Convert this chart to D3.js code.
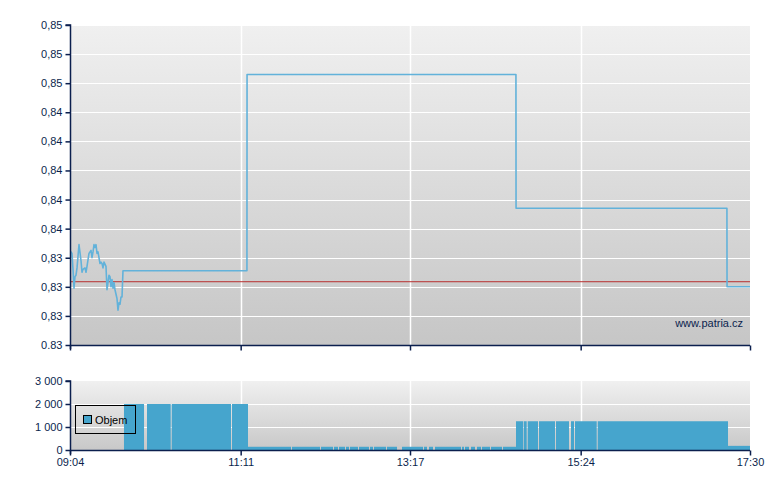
<!DOCTYPE html>
<html>
<head>
<meta charset="utf-8">
<script src="https://cdn.jsdelivr.net/npm/d3@7/dist/d3.min.js"></script>
<style>
  html, body { margin: 0; padding: 0; background: #ffffff; }
  svg { display: block; font-family: "Liberation Sans", Arial, sans-serif; }
</style>
</head>
<body>
<svg id="chart" width="780" height="490"></svg>
<script>
// ---------- DATA ----------
const priceTimes = [
  "09:04:00","09:04:45","09:05:29","09:06:14","09:06:59","09:07:43","09:08:28","09:09:13",
  "09:10:42","09:12:11","09:12:56","09:13:40","09:15:10","09:15:54","09:16:39","09:18:08",
  "09:19:38","09:20:22","09:21:07","09:21:52","09:22:36","09:23:21","09:24:05","09:24:50",
  "09:26:19","09:27:04","09:27:49","09:28:33","09:29:18","09:30:47","09:31:32","09:32:17",
  "09:33:01","09:33:46","09:34:31","09:35:15","09:36:00","09:36:45","09:37:29","09:38:58",
  "09:39:43","09:40:28","09:41:12","09:41:57","09:42:42","09:43:26",
  "11:15:40","11:15:45","14:35:50","14:35:55","17:12:50","17:12:55","17:30:00"
];
const priceValues = [
  0.8344,0.8344,0.8343,0.8332,0.8319,0.8327,0.8328,0.8333,
  0.8349,0.8338,0.8330,0.8332,0.8333,0.8330,0.8334,0.8343,
  0.8345,0.8340,0.8344,0.8349,0.8347,0.8349,0.8343,0.8344,
  0.8336,0.8337,0.8336,0.8333,0.8337,0.8334,0.8318,0.8323,
  0.8328,0.8327,0.8320,0.8325,0.8319,0.8323,0.8318,0.8312,
  0.8304,0.8309,0.8308,0.8313,0.8313,0.8331,
  0.8331,0.8466,0.8466,0.8374,0.8374,0.8320,0.8320
];
const previousClose = 0.83235;

const volStart = [
  "09:44:10","10:01:18","10:19:41","11:04:33",
  "11:16:27","11:49:12","12:10:46","12:20:27","12:24:10","12:29:23","12:32:21","12:39:03",
  "12:47:14","12:50:13","12:59:53","13:11:03","13:27:25","13:31:08","13:35:36","13:55:42",
  "13:57:56","14:02:23","14:06:51","14:10:35","14:17:16","14:26:12",
  "14:35:53","14:41:36","14:44:35","14:52:59","15:05:38","15:16:48","15:19:47","15:36:41",
  "17:13:38"
];
const volEnd = [
  "09:59:05","10:18:56","11:03:48","11:16:27",
  "11:48:27","12:10:02","12:19:42","12:23:25","12:28:38","12:31:37","12:38:18","12:46:29",
  "12:49:28","12:59:08","13:07:20","13:26:40","13:29:39","13:34:07","13:54:57","13:57:11",
  "14:00:54","14:05:22","14:09:50","14:16:32","14:25:28","14:35:53",
  "14:41:05","14:43:50","14:52:15","15:04:54","15:15:19","15:19:02","15:35:56","17:13:38",
  "17:30:00"
];
const volValues = [
  2000,2000,2000,2000,
  140,140,140,140,140,140,140,140,
  140,140,140,140,140,140,140,140,
  140,140,140,140,140,140,
  1250,1250,1250,1250,1250,1250,1250,1250,
  180
];

const xTickTimes  = ["09:04","11:11","13:17","15:24","17:30"];
const yTickValues = [0.828,0.830,0.832,0.834,0.836,0.838,0.840,0.842,0.844,0.846,0.848,0.850];
const yTickLabels = ["0.83","0,83","0,83","0,83","0,84","0,84","0,84","0,84","0,84","0,85","0,85","0,85"];
const volTickValues = [0,1000,2000,3000];
const volTickLabels = ["0","1 000","2 000","3 000"];
const legendLabel = "Objem";
const watermark = "www.patria.cz";

// ---------- SETUP ----------
const parseS = d3.timeParse("%H:%M:%S");
const parseM = d3.timeParse("%H:%M");
const svg = d3.select("#chart");
const axisColor = "#0b1f4e";
const blue = "#46a5cd";

const left = 70, right = 750;
const top1 = 25, bot1 = 345;
const top2 = 381, bot2 = 450;

const x = d3.scaleTime()
  .domain([parseM("09:04"), parseM("17:30")])
  .range([left, right]);
const y = d3.scaleLinear().domain([0.828, 0.850]).range([bot1, top1]);
const yv = d3.scaleLinear().domain([0, 3000]).range([bot2, top2]);

const defs = svg.append("defs");
function grad(id, c1, c2) {
  const g = defs.append("linearGradient").attr("id", id)
    .attr("x1", 0).attr("y1", 0).attr("x2", 0).attr("y2", 1);
  g.append("stop").attr("offset", "0%").attr("stop-color", c1);
  g.append("stop").attr("offset", "100%").attr("stop-color", c2);
}
grad("bg1", "#f0f0f0", "#c6c6c6");
grad("bg2", "#f0f0f0", "#c8c8c8");

// ---------- PRICE PANEL ----------
svg.append("rect").attr("x", left).attr("y", top1)
  .attr("width", right - left).attr("height", bot1 - top1)
  .attr("fill", "url(#bg1)");

const gGrid1 = svg.append("g");
gGrid1.selectAll("line.h").data(yTickValues.slice(1)).join("line")
  .attr("x1", left).attr("x2", right)
  .attr("y1", d => Math.round(y(d)) + 0.5).attr("y2", d => Math.round(y(d)) + 0.5)
  .attr("stroke", "#ffffff").attr("stroke-width", 1.2);
gGrid1.selectAll("line.v").data(xTickTimes.slice(1, -1)).join("line")
  .attr("x1", d => Math.round(x(parseM(d))) + 0.5).attr("x2", d => Math.round(x(parseM(d))) + 0.5)
  .attr("y1", top1).attr("y2", bot1)
  .attr("stroke", "#ffffff").attr("stroke-width", 1.5);

// previous close reference line
svg.append("line")
  .attr("x1", left).attr("x2", right)
  .attr("y1", y(previousClose)).attr("y2", y(previousClose))
  .attr("stroke", "#b83030").attr("stroke-width", 1);

const priceData = priceTimes.map((t, i) => ({ t: parseS(t), v: priceValues[i] }));
svg.append("path").datum(priceData)
  .attr("d", d3.line().x(d => x(d.t)).y(d => y(d.v)))
  .attr("fill", "none")
  .attr("stroke", "#62b2da")
  .attr("stroke-width", 1.6)
  .attr("stroke-linejoin", "round");

svg.append("text").attr("x", 743).attr("y", 327)
  .attr("text-anchor", "end").attr("font-size", 11).attr("fill", axisColor)
  .text(watermark);

// y axis price
const yAxis = d3.axisLeft(y).tickValues(yTickValues)
  .tickFormat((d, i) => yTickLabels[i]).tickSize(5).tickPadding(3);
const gy = svg.append("g").attr("transform", `translate(${left + 0.5},0)`).call(yAxis);
// x axis price (no labels)
const xAxis1 = d3.axisBottom(x).tickValues(xTickTimes.map(parseM))
  .tickFormat("").tickSize(5);
const gx1 = svg.append("g").attr("transform", `translate(0,${bot1 + 0.5})`).call(xAxis1);

// ---------- VOLUME PANEL ----------
svg.append("rect").attr("x", left).attr("y", top2)
  .attr("width", right - left).attr("height", bot2 - top2)
  .attr("fill", "url(#bg2)");
const gGrid2 = svg.append("g");
gGrid2.selectAll("line.h").data(volTickValues.slice(1, -1)).join("line")
  .attr("x1", left).attr("x2", right)
  .attr("y1", d => Math.round(yv(d)) + 0.5).attr("y2", d => Math.round(yv(d)) + 0.5)
  .attr("stroke", "#ffffff").attr("stroke-width", 1.2);
gGrid2.selectAll("line.v").data(xTickTimes.slice(1, -1)).join("line")
  .attr("x1", d => Math.round(x(parseM(d))) + 0.5).attr("x2", d => Math.round(x(parseM(d))) + 0.5)
  .attr("y1", top2).attr("y2", bot2)
  .attr("stroke", "#ffffff").attr("stroke-width", 1.5);

const volData = volStart.map((s, i) => ({ s: parseS(s), e: parseS(volEnd[i]), v: volValues[i] }));
svg.append("g").selectAll("rect").data(volData).join("rect")
  .attr("x", d => x(d.s))
  .attr("width", d => Math.max(0.8, x(d.e) - x(d.s)))
  .attr("y", d => yv(d.v))
  .attr("height", d => bot2 - yv(d.v))
  .attr("fill", blue);

const yvAxis = d3.axisLeft(yv).tickValues(volTickValues)
  .tickFormat((d, i) => volTickLabels[i]).tickSize(5).tickPadding(3);
const gyv = svg.append("g").attr("transform", `translate(${left + 0.5},0)`).call(yvAxis);
const xAxis2 = d3.axisBottom(x).tickValues(xTickTimes.map(parseM))
  .tickFormat((d, i) => xTickTimes[i]).tickSize(5).tickPadding(3);
const gx2 = svg.append("g").attr("transform", `translate(0,${bot2 + 0.5})`).call(xAxis2);

[gy, gx1, gyv, gx2].forEach(g => {
  g.select(".domain").attr("stroke", axisColor).attr("stroke-width", 1.5);
  g.selectAll(".tick line").attr("stroke", axisColor).attr("stroke-width", 1.5);
  g.selectAll(".tick text").attr("fill", axisColor)
    .attr("font-size", 11).attr("font-family", "Liberation Sans, Arial, sans-serif");
});
gy.select(".domain").attr("d", `M-5,${top1}H0V${bot1 + 4}`);
gyv.select(".domain").attr("d", `M-5,${top2}H0V${bot2 + 4}`);
gx1.select(".domain").attr("d", `M${left},0H${right}`);
gx2.select(".domain").attr("d", `M${left},0H${right}`);

// legend
const lg = svg.append("g");
lg.append("rect").attr("x", 75.5).attr("y", 405.5).attr("width", 60).attr("height", 28)
  .attr("fill", "none").attr("stroke", "#000000").attr("stroke-width", 1);
lg.append("rect").attr("x", 83.5).attr("y", 415.5).attr("width", 8).attr("height", 8)
  .attr("fill", blue).attr("stroke", "#000000").attr("stroke-width", 1);
lg.append("text").attr("x", 95).attr("y", 424).attr("font-size", 11)
  .attr("fill", "#000000").text(legendLabel);
</script>
</body>
</html>
